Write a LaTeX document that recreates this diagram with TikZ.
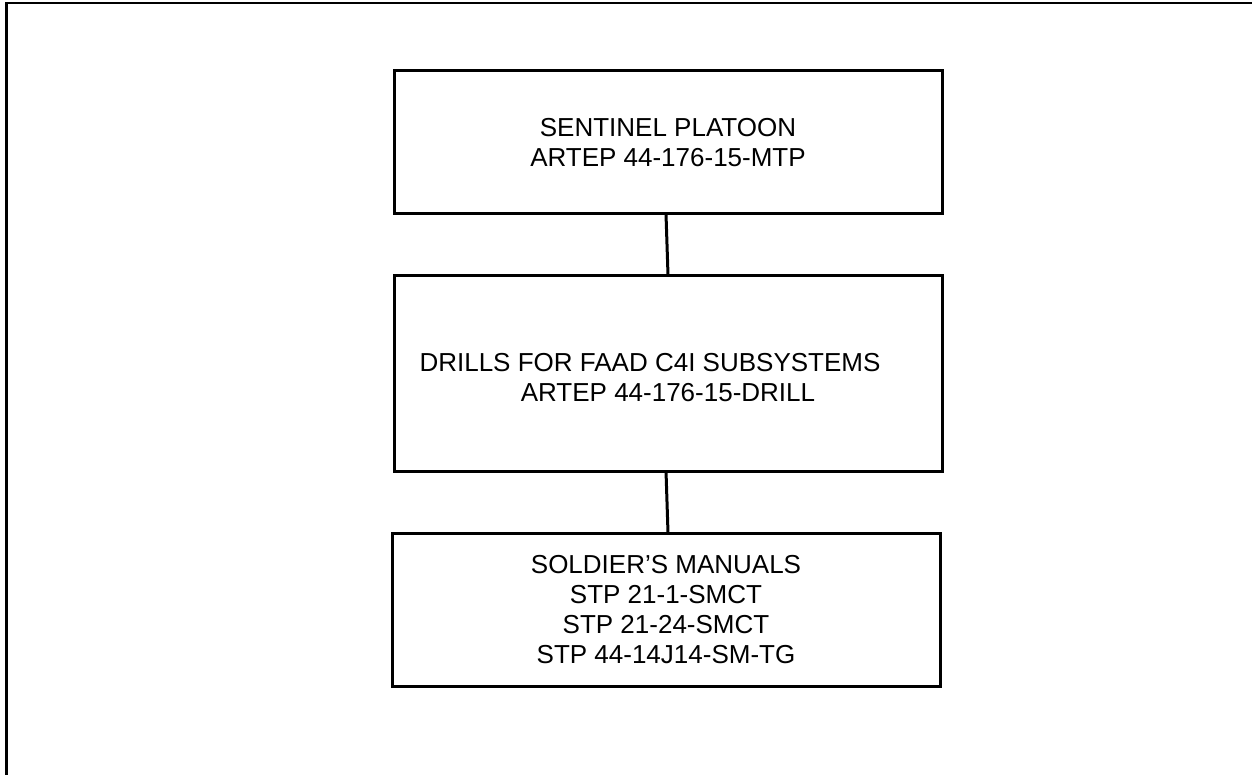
\documentclass[tikz,border=0pt]{standalone}
\usepackage{fontspec}
\setmainfont{Liberation Sans}
\begin{document}
\begin{tikzpicture}[x=0.5pt,y=-0.5pt,
  box/.style={draw=black,line width=1.5pt,rectangle,inner sep=0pt,outer sep=0pt,
    minimum width=274pt,align=center,
    font=\fontsize{13pt}{15pt}\selectfont},
  boxtext/.style={inner sep=0pt,align=center,font=\fontsize{13pt}{15pt}\selectfont},
  link/.style={draw=black,line width=1.5pt},
  frame/.style={draw=black,line width=1.2pt}]
\useasboundingbox (0,0) rectangle (1252,775);
\coordinate (fr1) at (6.5,775);
\coordinate (fr2) at (6.5,3);
\coordinate (fr3) at (1252,3);
\draw[frame] (fr1) -- (fr2) -- (fr3);
\node[box,minimum height=71.5pt] (b1) at (668,142.5)
  {SENTINEL PLATOON\\ARTEP 44-176-15-MTP};
\node[box,minimum height=98pt] (b2) at (668,373) {};
\node[boxtext] (t2) at ([yshift=-2.5pt]b2.center)
  {DRILLS FOR FAAD C4I SUBSYSTEMS\hspace*{18pt}\\ARTEP 44-176-15-DRILL};
\node[box,minimum height=76.5pt] (b3) at (666,609.5)
  {SOLDIER’S MANUALS\\STP 21-1-SMCT\\STP 21-24-SMCT\\STP 44-14J14-SM-TG};
\draw[link] ([xshift=-1pt]b1.south) -- (b2.north);
\draw[link] ([xshift=-1pt]b2.south) -- ([xshift=1pt]b3.north);
\end{tikzpicture}
\end{document}
